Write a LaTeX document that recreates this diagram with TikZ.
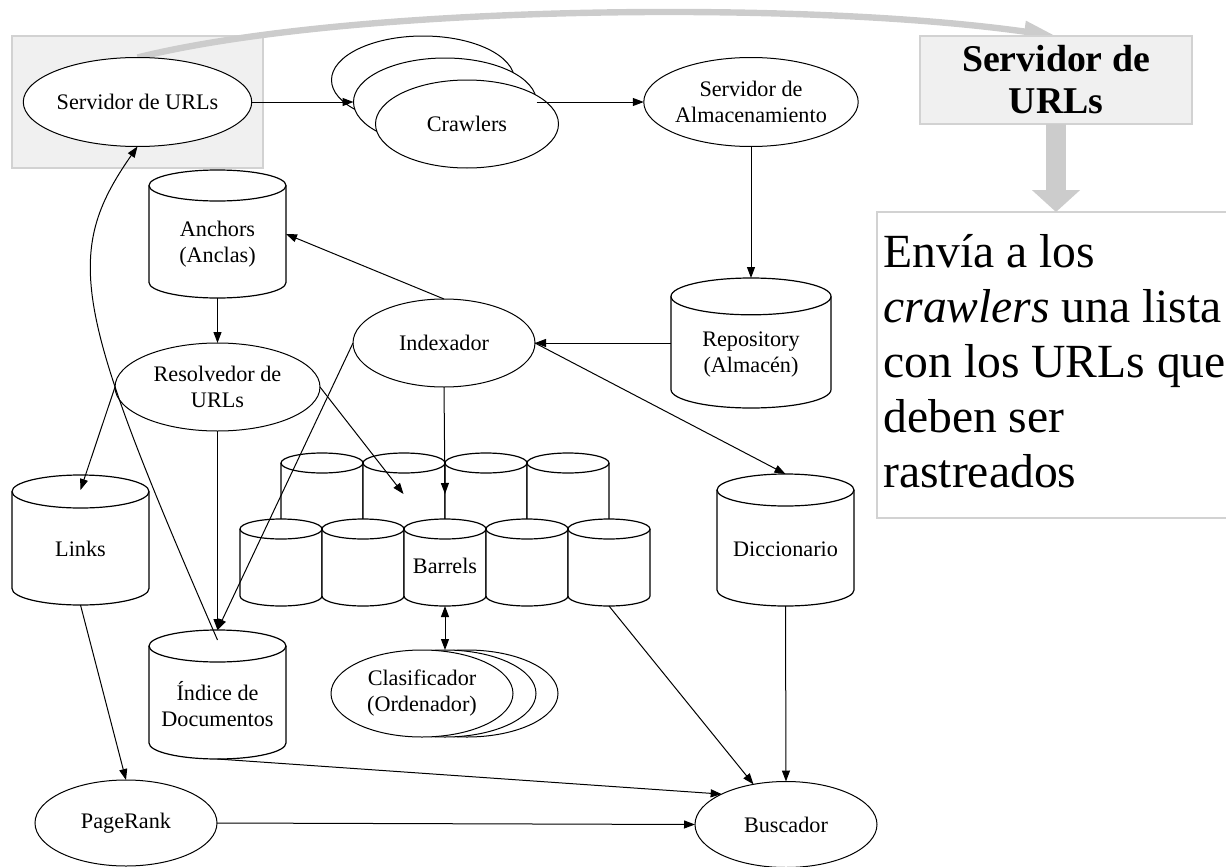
\documentclass[tikz,border=0pt]{standalone}
\usepackage{fontspec}
\setmainfont{Liberation Serif}
\usetikzlibrary{arrows.meta,shapes.geometric,backgrounds}

\definecolor{panelfill}{HTML}{F0F0F0}
\definecolor{panelline}{HTML}{D2D2D2}
\definecolor{flowgray}{HTML}{CCCCCC}

\newcommand\lblfont{\fontsize{11.1}{13}\selectfont}
\newcommand\hdrfont{\fontsize{18.9}{21}\selectfont\bfseries}
\newcommand\descfont{\fontsize{23.8}{27.5}\selectfont}

% outline of a vertical storage cylinder drawn around a rectangular node
% #1 node name, #2 half width, #3 vertical radius of the end ellipses
\newcommand\cylshape[3]{%
  \draw[cylline, fill=white] ([yshift=-#3]#1.north west) -- ([yshift=#3]#1.south west)
    arc[start angle=180, end angle=360, x radius=#2, y radius=#3]
    -- ([yshift=-#3]#1.north east)
    arc[start angle=0, end angle=180, x radius=#2, y radius=#3] -- cycle;
  \draw[cylline] ([yshift=-#3]#1.north west)
    arc[start angle=180, end angle=360, x radius=#2, y radius=#3];
}

\begin{document}
\begin{tikzpicture}[x=0.5pt, y=-0.5pt,
  proc/.style={ellipse, draw, fill=white, line width=0.5pt, inner sep=0pt, outer sep=0pt, align=center, font=\lblfont},
  store/.style={rectangle, inner sep=0pt, outer sep=0pt},
  cylline/.style={draw, line width=0.6pt},
  lbl/.style={inner sep=0pt, align=center, font=\lblfont},
  arr/.style={line width=0.5pt, -{Triangle[length=5.5pt,width=4pt]}},
  panel/.style={rectangle, draw=panelline, fill=panelfill, line width=0.8pt, inner sep=0pt, outer sep=0pt},
]
\useasboundingbox (0,0) rectangle (1226,867);

% side panel: title box and description
\node[panel, minimum width=136pt, minimum height=44pt, font=\hdrfont, align=center] (hdr) at (1056,80) {Servidor de\\URLs};
\node[rectangle, draw=panelline, fill=white, line width=0.8pt, inner sep=0pt, outer sep=0pt,
      minimum width=181.5pt, minimum height=153pt] (desc) at (1058.5,365) {};
\draw[flowgray, line width=10pt, -{Triangle[length=11pt,width=23.5pt]}] (hdr.south) -- (hdr.south |- desc.north);
\node[anchor=north west, align=left, inner sep=0pt, font=\descfont] (desctext) at (883,234)
  {Envía a los\\\textit{crawlers} una lista\\con los URLs que\\deben ser\\rastreados};

% processes
\node[proc, minimum width=102.5pt, minimum height=44.5pt] (srv) at (137.5,102) {Servidor de URLs};
\node[proc, minimum width=91.5pt, minimum height=44pt] (c1) at (423,80) {};
\node[proc, minimum width=91.5pt, minimum height=44pt] (c2) at (445,102) {};
\node[proc, minimum width=91.5pt, minimum height=44pt] (c3) at (467,124) {Crawlers};
\node[proc, minimum width=102.5pt, minimum height=44.5pt] (alm) at (751,102) {Servidor de\\Almacenamiento};
\node[proc, minimum width=91pt, minimum height=44pt] (idx) at (444,343) {Indexador};
\node[proc, minimum width=102.5pt, minimum height=44pt] (resolv) at (217.5,387) {Resolvedor de\\URLs};
\node[proc, minimum width=91pt, minimum height=43.5pt] (k3) at (467,693.5) {};
\node[proc, minimum width=91pt, minimum height=43.5pt] (k2) at (445,693.5) {};
\node[proc, minimum width=91pt, minimum height=43.5pt] (k1) at (422,693.5) {Clasificador\\(Ordenador)};
\node[proc, minimum width=91pt, minimum height=43pt] (pagerank) at (126,823) {PageRank};
\node[proc, minimum width=91pt, minimum height=43pt] (buscador) at (786,824.5) {Buscador};

% highlight behind the URL server and the link to the title box
\begin{scope}[on background layer]
  \node[panel, minimum width=125.5pt, minimum height=66pt] (srvbox) at (137.5,102) {};
  \draw[flowgray, line width=3.2pt, -{Triangle[length=16pt,width=10pt]}]
    (srv.north) .. controls (350,5) and (800,0) .. (hdr.north);
\end{scope}

% storages
\node[store, minimum width=68.5pt, minimum height=64pt] (anchors) at (217.5,234) {};
\cylshape{anchors}{34.25pt}{7.75pt}
\node[lbl] (anchors-text) at (217.5,244) {Anchors\\(Anclas)};

\node[store, minimum width=80pt, minimum height=65pt] (repo) at (751,343) {};
\cylshape{repo}{40pt}{9.2pt}
\node[lbl] (repo-text) at (751,355) {Repository\\(Almacén)};

\node[store, minimum width=68.5pt, minimum height=65pt] (links) at (80.5,540) {};
\cylshape{links}{34.25pt}{8.25pt}
\node[lbl] (links-text) at (80.5,549) {Links};

\node[store, minimum width=68.5pt, minimum height=64.5pt] (indice) at (217.5,694.5) {};
\cylshape{indice}{34.25pt}{8pt}
\node[lbl] (indice-text) at (217.5,704) {Índice de\\Documentos};

\node[store, minimum width=68.5pt, minimum height=66pt] (dicc) at (785.5,540) {};
\cylshape{dicc}{34.25pt}{8pt}
\node[lbl] (dicc-text) at (785.5,549) {Diccionario};

% barrels: back row, then front row
\foreach \i/\x in {1/322,2/404,3/486,4/568} {
  \node[store, minimum width=41pt, minimum height=68.5pt] (a\i) at (\x,521.5) {};
  \cylshape{a\i}{20.5pt}{5pt}
}
\foreach \i/\x in {1/281,2/363,3/445,4/527,5/609} {
  \node[store, minimum width=41pt, minimum height=43.5pt] (b\i) at (\x,562.5) {};
  \cylshape{b\i}{20.5pt}{5pt}
}
\node[store, minimum width=204.5pt, minimum height=56pt] (barrels) at (445,550) {};
\node[lbl] (barrels-text) at (445,566) {Barrels};

% data flow
\draw[arr] (srv.east) -- (c2.west);
\draw[arr] (c2.east) -- (alm.west);
\draw[arr] (alm.south) -- (repo.north);
\draw[arr] (repo.west) -- (idx.east);
\draw[arr] (idx.north) -- (anchors.east);
\draw[arr] (idx.east) -- (dicc.north);
\draw[arr] (idx.south) -- (barrels.north);
\draw[arr] (idx.west) -- (indice.north);
\draw[arr] (anchors.south) -- (resolv.north);
\draw[arr] (resolv.west) -- ([yshift=-7.5pt]links.north);
\draw[arr] (resolv.east) -- ([xshift=-20.75pt]barrels.north);
\draw[arr] (resolv.south) -- (indice.north);
\draw[arr] ([yshift=-5pt]indice.north) .. controls (74,310) and (62,254.5) .. (srv.south);
\draw[arr] (links.south) -- (pagerank.north);
\draw[arr] (pagerank.east) -- (buscador.west);
\draw[arr] (indice.south) -- (buscador.north west);
\draw[arr] (b5.south) -- (buscador);
\draw[arr] (dicc.south) -- (buscador.north);
\draw[line width=0.5pt, {Triangle[length=5.5pt,width=4pt]}-{Triangle[length=5.5pt,width=4pt]}] (barrels.south) -- (k2.north);

\end{tikzpicture}
\end{document}
